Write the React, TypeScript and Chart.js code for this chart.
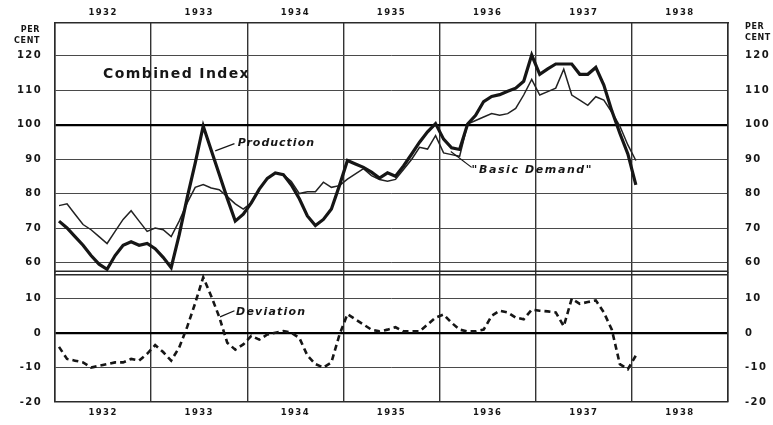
import React, { useEffect, useRef } from 'react';
import { Chart, registerables } from 'chart.js';

Chart.register(...registerables);

// ---- data (monthly, Jan 1932 .. Jan 1938) ----
const yearLabels = ['1932', '1933', '1934', '1935', '1936', '1937', '1938'];
const topTicks = [60, 70, 80, 90, 100, 110, 120];
const bottomTicks = [-20, -10, 0, 10];

const production = [
  72, 70, 67.5, 65, 62, 59.5, 58, 62, 65, 66, 65, 65.5,
  64, 61.5, 58.5, 68, 78.8, 88.8, 99.6, 92.6, 85.6, 78.6, 72, 74,
  77.3, 81.3, 84.4, 86, 85.5, 82.5, 78.5, 73.5, 70.7, 72.5, 75.5, 82.3,
  89.6, 88.6, 87.6, 86.2, 84.5, 86, 85, 88, 91.4, 94.9, 97.9, 100.3,
  95.8, 93.3, 92.8, 100.2, 102.7, 106.7, 108.2, 108.7, 109.7, 110.6, 112.6, 120.2,
  114.6, 116.2, 117.6, 117.6, 117.6, 114.6, 114.6, 116.6, 111.5, 104, 97.5, 91.5,
  82.5,
];

const basicDemand = [
  76.5, 77, 74, 71, 69.5, 67.5, 65.5, 69, 72.5, 75, 72, 69,
  70, 69.5, 67.5, 72, 77.3, 81.8, 82.6, 81.6, 81.1, 79.1, 77, 75.5,
  77.3, 81.3, 84.4, 86, 85.5, 83.5, 80, 80.5, 80.5, 83.3, 81.8, 82.3,
  84.2, 85.7, 87.2, 85.2, 84.1, 83.6, 84.1, 87, 89.9, 93.4, 92.9, 96.8,
  91.8, 91.3, 90.8, 100.2, 101.2, 102.2, 103.2, 102.7, 103.2, 104.7, 108.6, 113.1,
  108.6, 109.6, 110.6, 116.1, 108.6, 107.1, 105.6, 108.1, 107.1, 103.6, 99.6, 94.1,
  89.6,
];

const deviation = [
  -4, -7.5, -8, -8.5, -10, -9.5, -9, -8.5, -8.5, -7.5, -8, -6,
  -3.5, -5.5, -8, -4.2, 1.8, 8.7, 16.2, 10.7, 4.7, -2.8, -4.8, -3.3,
  -0.8, -1.9, -0.4, 0.1, 0.6, 0.1, -1.4, -6.5, -9, -10, -8.5, -0.5,
  5.5, 4, 2.5, 1, 0.5, 1, 1.7, 0.5, 0.5, 0.5, 2.5, 4.5,
  5.4, 3, 1, 0.5, 0.5, 1, 5, 6.5, 6, 4.5, 4, 6.8,
  6.5, 6.3, 6, 2, 10, 8.5, 9, 9.5, 6, 1, -9, -10.5,
  -6.5,
];

const TOP_MIN = 57;
const TOP_MAX = 129.5;
const BOT_MIN = -20;
const BOT_MAX = 17.5;
const MONTHS = 84;

const INK = '#161616';
const GRID = '#4a4a4a';
const FONT = '"DejaVu Sans", sans-serif';

const tickFont = { family: FONT, weight: 'bold' as const, size: 10 };
const yearFont = { family: FONT, weight: 'bold' as const, size: 8.5 };

const toPoints = (arr: number[]) => arr.map((v, i) => ({ x: i + 0.5, y: v }));

const setSpacing = (ctx: any, s: string) => {
  try { ctx.letterSpacing = s; } catch (e) { /* ignore */ }
};

const annotationPlugin = {
  id: 'annotations',
  beforeDraw(chart: any) {
    setSpacing(chart.ctx, '1.4px');
  },
  beforeDatasetsDraw(chart: any) {
    const { ctx, chartArea, scales } = chart;
    const yt = scales.yTop;
    ctx.save();
    ctx.strokeStyle = '#2a2a2a';
    ctx.lineWidth = 1.5;
    const b = yt.bottom;
    ctx.beginPath();
    ctx.moveTo(chartArea.left, b - 1.5);
    ctx.lineTo(chartArea.right, b - 1.5);
    ctx.moveTo(chartArea.left, b + 2);
    ctx.lineTo(chartArea.right, b + 2);
    ctx.stroke();
    ctx.restore();
  },
  afterDraw(chart: any) {
    const { ctx, chartArea, scales } = chart;
    const x = scales.x;
    const yt = scales.yTop;
    const yb = scales.yBot;
    ctx.save();
    ctx.fillStyle = INK;
    ctx.strokeStyle = INK;
    ctx.lineWidth = 1.2;
    ctx.textBaseline = 'middle';

    // PER CENT labels
    ctx.font = `bold 8px ${FONT}`;
    setSpacing(ctx, '0.6px');
    ctx.textAlign = 'right';
    ctx.fillText('PER', chartArea.left - 15, chartArea.top + 7);
    ctx.fillText('CENT', chartArea.left - 15, chartArea.top + 18);
    ctx.textAlign = 'left';
    ctx.fillText('PER', chartArea.right + 17, chartArea.top + 4);
    ctx.fillText('CENT', chartArea.right + 17, chartArea.top + 15);

    // title
    ctx.font = `bold 14px ${FONT}`;
    setSpacing(ctx, '1.4px');
    ctx.fillText('Combined Index', x.getPixelForValue(6), yt.getPixelForValue(114.6));

    ctx.font = `italic bold 11px ${FONT}`;
    setSpacing(ctx, '1px');
    // Production
    ctx.fillText('Production', x.getPixelForValue(22.8), yt.getPixelForValue(94.7));
    ctx.beginPath();
    ctx.moveTo(x.getPixelForValue(20.0), yt.getPixelForValue(92.4));
    ctx.lineTo(x.getPixelForValue(22.4), yt.getPixelForValue(94.5));
    ctx.stroke();
    // Basic Demand
    setSpacing(ctx, '1.6px');
    ctx.fillText('"Basic Demand"', x.getPixelForValue(52.0), yt.getPixelForValue(86.7));
    ctx.beginPath();
    ctx.moveTo(x.getPixelForValue(49.4), yt.getPixelForValue(92.2));
    ctx.lineTo(x.getPixelForValue(52.0), yt.getPixelForValue(87.6));
    ctx.stroke();
    // Deviation
    setSpacing(ctx, '1.2px');
    ctx.fillText('Deviation', x.getPixelForValue(22.6), yb.getPixelForValue(6.1));
    ctx.beginPath();
    ctx.moveTo(x.getPixelForValue(20.6), yb.getPixelForValue(4.7));
    ctx.lineTo(x.getPixelForValue(22.4), yb.getPixelForValue(6.5));
    ctx.stroke();
    ctx.restore();
    setSpacing(ctx, '0px');
  },
};

const yearGridColor = (c: any) =>
  c.tick && Math.round(c.tick.value) % 12 === 0 ? '#333' : 'rgba(0,0,0,0)';

const yearTick = (v: any) => {
  const n = Math.round(Number(v));
  return n % 12 === 6 ? yearLabels[(n - 6) / 12] : '';
};

const topGridColor = (c: any) => (c.tick && c.tick.value === 100 ? '#000' : GRID);
const topGridWidth = (c: any) => (c.tick && c.tick.value === 100 ? 2.2 : 1);
const botGridColor = (c: any) => (c.tick && c.tick.value === 0 ? '#000' : GRID);
const botGridWidth = (c: any) => (c.tick && c.tick.value === 0 ? 2.2 : 1);

export default function App() {
  const ref = useRef<HTMLCanvasElement | null>(null);

  useEffect(() => {
    if (!ref.current) return;
    const border = { display: true, color: '#2a2a2a', width: 1.5 };
    const chart = new Chart(ref.current, {
      type: 'line',
      data: {
        datasets: [
          {
            label: 'Production',
            data: toPoints(production),
            yAxisID: 'yTop',
            borderColor: INK,
            borderWidth: 3.2,
            pointRadius: 0,
            tension: 0,
          },
          {
            label: 'Basic Demand',
            data: toPoints(basicDemand),
            yAxisID: 'yTop',
            borderColor: '#222',
            borderWidth: 1.5,
            pointRadius: 0,
            tension: 0,
          },
          {
            label: 'Deviation',
            data: toPoints(deviation),
            yAxisID: 'yBot',
            borderColor: INK,
            borderWidth: 2.6,
            borderDash: [6, 4],
            pointRadius: 0,
            tension: 0,
          },
        ],
      },
      options: {
        animation: false,
        responsive: false,
        parsing: false as any,
        layout: { padding: 0 },
        plugins: { legend: { display: false }, tooltip: { enabled: false } },
        scales: {
          x: {
            type: 'linear',
            position: 'bottom',
            min: 0,
            max: MONTHS,
            ticks: { stepSize: 6, autoSkip: false, maxRotation: 0, callback: yearTick, font: yearFont, color: INK, padding: 6 },
            grid: { color: yearGridColor, lineWidth: 1.4, drawTicks: false },
            border,
            afterFit: (s: any) => { s.height = 19; },
          },
          x2: {
            type: 'linear',
            position: 'top',
            min: 0,
            max: MONTHS,
            ticks: { stepSize: 6, autoSkip: false, maxRotation: 0, callback: yearTick, font: yearFont, color: INK, padding: 5 },
            grid: { drawOnChartArea: false, drawTicks: false },
            border,
            afterFit: (s: any) => { s.height = 23; },
          },
          yBot: {
            type: 'linear',
            position: 'left',
            stack: 'left',
            stackWeight: BOT_MAX - BOT_MIN,
            min: BOT_MIN,
            max: BOT_MAX,
            afterBuildTicks: (s: any) => { s.ticks = bottomTicks.map((v) => ({ value: v })); },
            ticks: { font: tickFont, color: INK, padding: 13 },
            grid: { color: botGridColor, lineWidth: botGridWidth, drawTicks: false },
            border,
            afterFit: (s: any) => { s.width = 55; },
          },
          yTop: {
            type: 'linear',
            position: 'left',
            stack: 'left',
            stackWeight: TOP_MAX - TOP_MIN,
            min: TOP_MIN,
            max: TOP_MAX,
            afterBuildTicks: (s: any) => { s.ticks = topTicks.map((v) => ({ value: v })); },
            ticks: { font: tickFont, color: INK, padding: 13 },
            grid: { color: topGridColor, lineWidth: topGridWidth, drawTicks: false },
            border,
            afterFit: (s: any) => { s.width = 55; },
          },
          yTopR: {
            type: 'linear',
            position: 'right',
            stack: 'right',
            stackWeight: TOP_MAX - TOP_MIN,
            min: TOP_MIN,
            max: TOP_MAX,
            afterBuildTicks: (s: any) => { s.ticks = topTicks.map((v) => ({ value: v })); },
            ticks: { font: tickFont, color: INK, padding: 17 },
            grid: { drawOnChartArea: false, drawTicks: false },
            border,
            afterFit: (s: any) => { s.width = 45; },
          },
          yBotR: {
            type: 'linear',
            position: 'right',
            stack: 'right',
            stackWeight: BOT_MAX - BOT_MIN,
            min: BOT_MIN,
            max: BOT_MAX,
            afterBuildTicks: (s: any) => { s.ticks = bottomTicks.map((v) => ({ value: v })); },
            ticks: { font: tickFont, color: INK, padding: 17 },
            grid: { drawOnChartArea: false, drawTicks: false },
            border,
            afterFit: (s: any) => { s.width = 45; },
          },
        },
      } as any,
      plugins: [annotationPlugin],
    });
    return () => chart.destroy();
  }, []);

  return (
    <div style={{ position: 'absolute', left: 0, top: 0, width: 773, height: 425, background: '#fff' }}>
      <canvas ref={ref} width={773} height={425} style={{ display: 'block' }} />
    </div>
  );
}
